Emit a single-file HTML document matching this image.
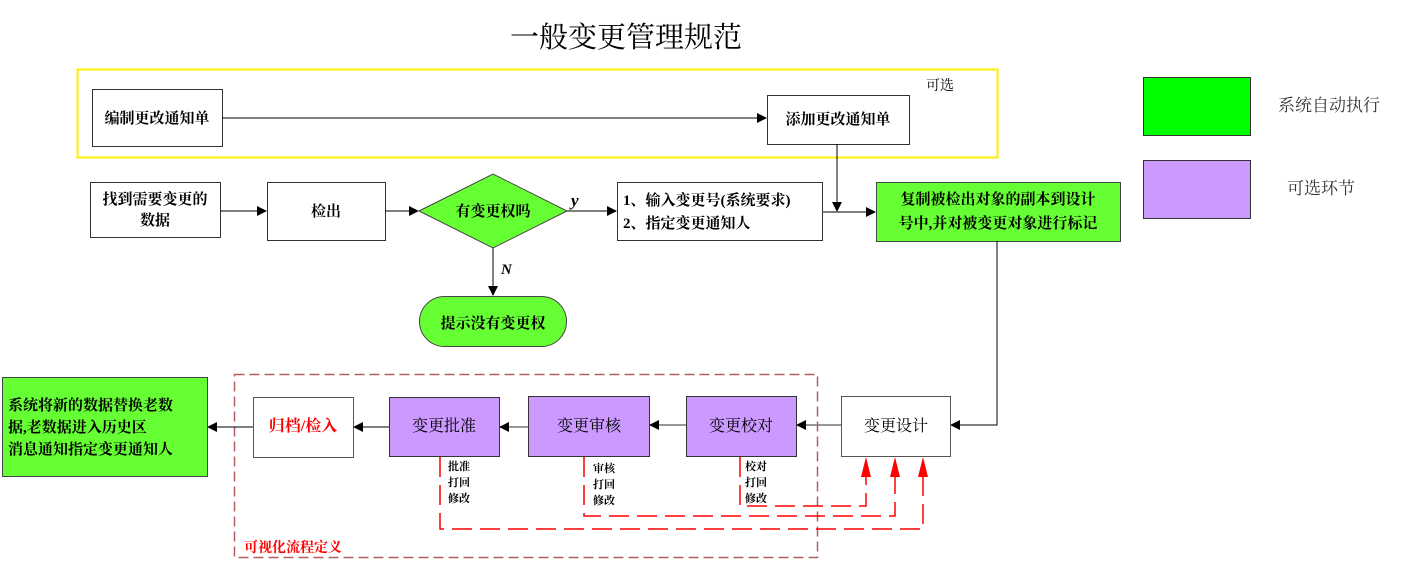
<!DOCTYPE html>
<html><head><meta charset="utf-8"><style>
html,body{margin:0;padding:0;background:#fff;width:1416px;height:563px;overflow:hidden}
text{font-family:"Liberation Serif","Noto Serif CJK SC",serif;}
.b{font-weight:bold;font-size:15px}
</style></head><body>
<svg width="1416" height="563" xmlns="http://www.w3.org/2000/svg">
<defs>
<marker id="a" markerWidth="10" markerHeight="10" refX="9" refY="5" orient="auto" markerUnits="userSpaceOnUse"><path d="M0,0 L10,5 L0,10 Z" fill="#000"/></marker>
</defs>
<text x="626" y="47" font-size="29" text-anchor="middle" font-family="Noto Sans CJK SC,sans-serif">一般变更管理规范</text>
<rect x="77.5" y="69.5" width="920" height="88" fill="none" stroke="#ffee00" stroke-width="2"/>
<text x="926" y="90" font-size="14" font-family="Noto Sans CJK SC,sans-serif">可选</text>
<rect x="92.5" y="89.5" width="130" height="57" fill="#fff" stroke="#333"/>
<text x="157" y="123" class="b" text-anchor="middle">编制更改通知单</text>
<line x1="222" y1="118" x2="766" y2="118" stroke="#000" marker-end="url(#a)"/>
<rect x="767.5" y="95.5" width="142" height="49" fill="#fff" stroke="#333"/>
<text x="838" y="124" class="b" text-anchor="middle">添加更改通知单</text>
<line x1="837" y1="144" x2="837" y2="211" stroke="#000" marker-end="url(#a)"/>
<rect x="90.5" y="182.5" width="130" height="55" fill="#fff" stroke="#333"/>
<text x="155" y="204" class="b" text-anchor="middle">找到需要变更的</text>
<text x="155" y="225" class="b" text-anchor="middle">数据</text>
<line x1="220" y1="211" x2="266" y2="211" stroke="#000" marker-end="url(#a)"/>
<rect x="267.5" y="182.5" width="118" height="58" fill="#fff" stroke="#333"/>
<text x="326" y="216" class="b" text-anchor="middle">检出</text>
<line x1="385" y1="211" x2="418" y2="211" stroke="#000" marker-end="url(#a)"/>
<polygon points="419,211 493,174 567,211 493,248" fill="#66ff33" stroke="#444"/>
<text x="493" y="216" class="b" text-anchor="middle">有变更权吗</text>
<line x1="567" y1="211" x2="616" y2="211" stroke="#555" stroke-width="1.5" marker-end="url(#a)"/>
<text x="571" y="206" font-size="17" font-style="italic" font-weight="bold">y</text>
<rect x="617.5" y="182.5" width="205" height="58" fill="#fff" stroke="#333"/>
<text x="623" y="205" class="b">1、输入变更号(系统要求)</text>
<text x="623" y="228" class="b">2、指定变更通知人</text>
<line x1="822" y1="212" x2="875" y2="212" stroke="#555" stroke-width="1.5" marker-end="url(#a)"/>
<rect x="876.5" y="182.5" width="244" height="59" fill="#66ff33" stroke="#444"/>
<text x="998" y="204" class="b" text-anchor="middle">复制被检出对象的副本到设计</text>
<text x="998" y="228" class="b" text-anchor="middle">号中,并对被变更对象进行标记</text>
<line x1="493" y1="248" x2="493" y2="295" stroke="#555" stroke-width="1.5" marker-end="url(#a)"/>
<text x="501" y="274" font-size="15" font-style="italic" font-weight="bold">N</text>
<rect x="419.5" y="296.5" width="147" height="50" rx="25" fill="#66ff33" stroke="#444"/>
<text x="493" y="328" class="b" text-anchor="middle">提示没有变更权</text>
<polyline points="997,241 997,425 951,425" fill="none" stroke="#000" marker-end="url(#a)"/>
<rect x="234.5" y="374.5" width="583" height="183" fill="none" stroke="#b06060" stroke-width="1.5" stroke-dasharray="10,5"/>
<text x="244" y="552" font-size="14" fill="#f00" font-weight="bold">可视化流程定义</text>
<rect x="841.5" y="396.5" width="109" height="60" fill="#fff" stroke="#555"/>
<text x="896" y="431" font-size="16" text-anchor="middle">变更设计</text>
<line x1="841" y1="425" x2="797" y2="425" stroke="#777" stroke-width="1.5" marker-end="url(#a)"/>
<rect x="686.5" y="396.5" width="110" height="60" fill="#cc99ff" stroke="#333"/>
<text x="741" y="431" font-size="16" text-anchor="middle">变更校对</text>
<line x1="686" y1="425" x2="650" y2="425" stroke="#777" stroke-width="1.5" marker-end="url(#a)"/>
<rect x="528.5" y="396.5" width="121" height="60" fill="#cc99ff" stroke="#333"/>
<text x="589" y="431" font-size="16" text-anchor="middle">变更审核</text>
<line x1="528" y1="427" x2="500" y2="427" stroke="#777" stroke-width="1.5" marker-end="url(#a)"/>
<rect x="389.5" y="397.5" width="110" height="59" fill="#cc99ff" stroke="#333"/>
<text x="444" y="431" font-size="16" text-anchor="middle">变更批准</text>
<line x1="389" y1="427" x2="354" y2="427" stroke="#000" marker-end="url(#a)"/>
<rect x="253.5" y="397.5" width="100" height="60" fill="#fff" stroke="#555"/>
<text x="303" y="431" font-size="16" text-anchor="middle" fill="#f00" font-weight="bold">归档/检入</text>
<line x1="253" y1="427" x2="208" y2="427" stroke="#000" marker-end="url(#a)"/>
<rect x="2.5" y="377.5" width="205" height="99" fill="#66ff33" stroke="#444"/>
<text x="8" y="410" class="b">系统将新的数据替换老数</text>
<text x="8" y="432" class="b">据,老数据进入历史区</text>
<text x="8" y="454" class="b">消息通知指定变更通知人</text>
<g font-size="11" font-weight="bold">
<text x="448" y="470">批准</text><text x="448" y="486">打回</text><text x="448" y="502">修改</text>
<text x="593" y="472">审核</text><text x="593" y="488">打回</text><text x="593" y="504">修改</text>
<text x="745" y="470">校对</text><text x="745" y="486">打回</text><text x="745" y="502">修改</text>
</g>
<g fill="none" stroke="#f00" stroke-width="1.5" stroke-dasharray="20,8">
<polyline points="440,457 440,529 923,529 923,476"/>
<polyline points="584,457 584,516 895,516 895,476"/>
<polyline points="740,457 740,506 866,506 866,476"/>
</g>
<g fill="#f00">
<polygon points="866,457 861,477 871,477"/>
<polygon points="895,457 890,477 900,477"/>
<polygon points="923,457 918,477 928,477"/>
</g>
<rect x="1143.5" y="77.5" width="107" height="58" fill="#00ff00" stroke="#333"/>
<rect x="1143.5" y="160.5" width="107" height="58" fill="#cc99ff" stroke="#333"/>
<text x="1278" y="111" font-size="17" font-family="Noto Sans CJK SC,sans-serif" fill="#333">系统自动执行</text>
<text x="1287" y="194" font-size="17" font-family="Noto Sans CJK SC,sans-serif" fill="#333">可选环节</text>
</svg>
</body></html>
